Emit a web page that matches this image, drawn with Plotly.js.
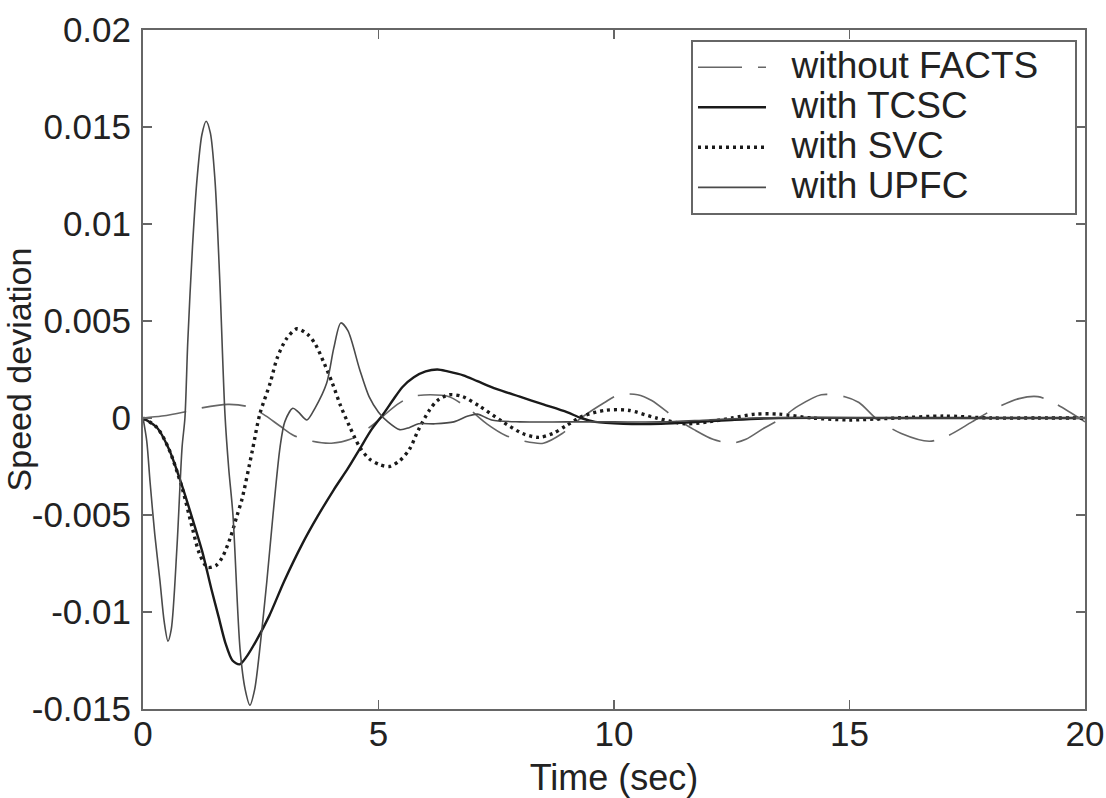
<!DOCTYPE html>
<html>
<head>
<meta charset="utf-8">
<script src="https://cdn.plot.ly/plotly-3.0.1.min.js"></script>
<style>html,body{margin:0;padding:0;background:#fff;}#chart{width:1106px;height:798px;}</style>
</head>
<body>
<div id="chart"></div>
<script>
// ---- data ----
const seriesNames = ["without FACTS", "with TCSC", "with SVC", "with UPFC"];

const tNoFacts = [0, 0.4, 0.85, 1.2, 1.8, 2.2, 2.55, 2.9, 3.2, 3.6, 4.0, 4.4, 4.8, 5.1, 5.4, 5.7, 6.1, 6.5, 6.9, 7.3, 7.7, 8.1, 8.5, 8.9, 9.3, 9.8, 10.1, 10.5, 10.8, 11.3, 11.7, 12.1, 12.5, 12.8, 13.2, 13.5, 13.9, 14.4, 14.9, 15.2, 15.6, 16.1, 16.7, 17.1, 17.6, 18.1, 18.6, 19.0, 19.4, 20.0];
const vNoFacts = [0, 0.0001, 0.0003, 0.0005, 0.0007, 0.0006, 0.0002, -0.0004, -0.0009, -0.0012, -0.0013, -0.0011, -0.0005, 0.0001, 0.0007, 0.0011, 0.0012, 0.0011, 0.0005, -0.0003, -0.0009, -0.0012, -0.0013, -0.0008, 0.0000, 0.0008, 0.0012, 0.0012, 0.0009, 0.0000, -0.0006, -0.0011, -0.0013, -0.0011, -0.0005, -0.0001, 0.0006, 0.0012, 0.0011, 0.0008, -0.0001, -0.0008, -0.0012, -0.0009, -0.0002, 0.0005, 0.0010, 0.0011, 0.0007, -0.0002];

const tTCSC = [0, 0.3, 0.55, 0.83, 1.05, 1.26, 1.45, 1.6, 1.75, 1.9, 2.05, 2.2, 2.4, 2.68, 3.0, 3.38, 3.7, 4.05, 4.35, 4.6, 4.85, 5.1, 5.3, 5.51, 5.75, 6.0, 6.25, 6.47, 6.8, 7.1, 7.5, 8.0, 8.5, 9.0, 9.3, 9.6, 10.2, 11.0, 11.8, 12.5, 13.5, 16.0, 20.0];
const vTCSC = [0, -0.0005, -0.0016, -0.0035, -0.0052, -0.0069, -0.0088, -0.0102, -0.0116, -0.0125, -0.0127, -0.0123, -0.0115, -0.0102, -0.0084, -0.0065, -0.0051, -0.0037, -0.0026, -0.0016, -0.0006, 0.0002, 0.0009, 0.0016, 0.0021, 0.0024, 0.0025, 0.0024, 0.0022, 0.0019, 0.0015, 0.0011, 0.0007, 0.0003, 0.0000, -0.0002, -0.0003, -0.0003, -0.0002, -0.0001, 0, 0, 0];

const tSVC = [0, 0.3, 0.55, 0.83, 1.05, 1.2, 1.37, 1.55, 1.68, 1.85, 2.0, 2.1, 2.32, 2.48, 2.7, 2.85, 3.05, 3.27, 3.5, 3.66, 3.85, 4.02, 4.2, 4.38, 4.6, 4.8, 5.02, 5.23, 5.45, 5.66, 5.85, 6.08, 6.25, 6.5, 6.79, 7.15, 7.64, 8.06, 8.4, 8.7, 8.98, 9.34, 9.83, 10.3, 10.9, 11.5, 12.0, 12.5, 13.0, 13.5, 14.2, 15.0, 16.0, 17.0, 18.0, 19.0, 20.0];
const vSVC = [0, -0.0005, -0.0016, -0.0036, -0.0057, -0.0070, -0.0077, -0.0076, -0.0072, -0.0062, -0.0050, -0.0042, -0.0017, 0.0002, 0.0018, 0.0031, 0.0041, 0.0046, 0.0043, 0.0038, 0.0028, 0.0018, 0.0006, -0.0004, -0.0015, -0.0021, -0.0024, -0.0025, -0.0022, -0.0016, -0.0006, 0.0004, 0.0009, 0.0012, 0.0011, 0.0006, -0.0002, -0.0008, -0.0010, -0.0008, -0.0004, 0.0001, 0.0004, 0.0004, 0.0000, -0.0003, -0.0002, 0.0000, 0.0002, 0.0002, 0.0000, -0.0001, 0, 0.0001, 0, 0, 0];

const tUPFC = [0, 0.08, 0.15, 0.25, 0.36, 0.45, 0.53, 0.6, 0.72, 0.83, 0.89, 0.95, 1.05, 1.15, 1.25, 1.34, 1.43, 1.53, 1.63, 1.74, 1.82, 1.91, 2.06, 2.17, 2.27, 2.37, 2.48, 2.63, 2.76, 2.91, 3.01, 3.18, 3.3, 3.48, 3.65, 3.9, 4.05, 4.2, 4.35, 4.6, 4.8, 5.0, 5.2, 5.45, 5.65, 5.85, 6.2, 6.6, 6.9, 7.1, 7.4, 8.0, 9.0, 10.0, 11.0, 12.0, 13.0, 16.0, 20.0];
const vUPFC = [0, -0.0012, -0.0033, -0.0060, -0.0084, -0.0105, -0.0115, -0.0109, -0.0067, -0.0015, 0.0000, 0.0039, 0.0088, 0.0124, 0.0146, 0.0153, 0.0147, 0.0122, 0.0071, 0.0002, -0.0026, -0.0050, -0.0119, -0.0140, -0.0148, -0.0140, -0.0119, -0.0084, -0.0050, -0.0015, -0.0002, 0.0005, 0.0003, -0.0001, 0.0005, 0.0018, 0.0036, 0.0049, 0.0045, 0.0025, 0.0011, 0.0003, -0.0002, -0.0006, -0.0005, -0.0003, -0.0003, -0.0002, 0.0001, 0.0002, -0.0001, -0.0002, -0.0002, -0.0002, -0.0002, -0.0001, 0, 0, 0];

const xTickVals = [0, 5, 10, 15, 20];
const xTickText = ["0", "5", "10", "15", "20"];
const yTickVals = [0.02, 0.015, 0.01, 0.005, 0, -0.005, -0.01, -0.015];
const yTickText = ["0.02", "0.015", "0.01", "0.005", "0", "-0.005", "-0.01", "-0.015"];

const xTitle = "Time (sec)";
const yTitle = "Speed deviation";

// ---- chart ----
const FONT = "'Liberation Sans', Arial, Helvetica, sans-serif";
const legendLabel = (s) => "<span style='font-size:37px'>&nbsp;&nbsp;" + s + "&nbsp;&nbsp;&nbsp;</span>";

const traces = [
  {x: tNoFacts, y: vNoFacts, name: legendLabel(seriesNames[0]), mode: "lines",
   line: {color: "#666666", width: 1.6, dash: "44px,16px", shape: "spline", smoothing: 0.8}},
  {x: tTCSC, y: vTCSC, name: legendLabel(seriesNames[1]), mode: "lines",
   line: {color: "#1a1a1a", width: 2.4, shape: "spline", smoothing: 0.8}},
  {x: tSVC, y: vSVC, name: legendLabel(seriesNames[2]), mode: "lines",
   line: {color: "#1a1a1a", width: 3.4, dash: "3px,4px", shape: "spline", smoothing: 0.8}},
  {x: tUPFC, y: vUPFC, name: legendLabel(seriesNames[3]), mode: "lines",
   line: {color: "#4a4a4a", width: 1.6, shape: "spline", smoothing: 0.8}}
];

const axisCommon = {
  showline: true, linecolor: "#666", linewidth: 2, mirror: "ticks",
  ticks: "inside", ticklen: 9, tickwidth: 1.5, tickcolor: "#666",
  showgrid: false, zeroline: false,
  tickfont: {family: FONT, size: 35, color: "#222"},
  tickmode: "array"
};

const layout = {
  width: 1106, height: 798,
  paper_bgcolor: "#fff", plot_bgcolor: "#fff",
  margin: {l: 143, r: 21, t: 30, b: 89, pad: 0},
  font: {family: FONT, color: "#222"},
  xaxis: Object.assign({}, axisCommon, {
    range: [0, 20], tickvals: xTickVals, ticktext: xTickText,
    ticklabelstandoff: -7,
    title: {text: xTitle, font: {family: FONT, size: 36, color: "#222"}, standoff: 16}
  }),
  yaxis: Object.assign({}, axisCommon, {
    range: [-0.015, 0.02], tickvals: yTickVals, ticktext: yTickText,
    ticklabelstandoff: 3,
    title: {text: yTitle, font: {family: FONT, size: 34, color: "#222"}, standoff: 0}
  }),
  showlegend: true,
  legend: {
    x: 0.9915, y: 0.985, xanchor: "right", yanchor: "top",
    bgcolor: "#fff", bordercolor: "#666", borderwidth: 2,
    font: {family: FONT, size: 28.5, color: "#222"},
    itemwidth: 68, tracegroupgap: 0
  }
};

Plotly.newPlot("chart", traces, layout, {displayModeBar: false, staticPlot: true});
</script>
</body>
</html>
